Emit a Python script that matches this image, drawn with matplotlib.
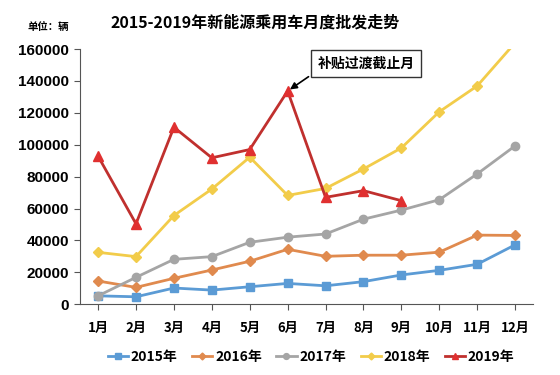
import numpy as np
import matplotlib.pyplot as plt

plt.rcParams['font.family'] = ['Noto Sans CJK SC', 'DejaVu Sans']

months = ['1月', '2月', '3月', '4月', '5月', '6月', '7月', '8月', '9月', '10月', '11月', '12月']
y2015 = [5200, 4600, 10100, 8800, 10900, 13000, 11500, 14100, 18300, 21200, 25000, 37200]
y2016 = [14500, 10500, 16200, 21400, 26900, 34400, 30000, 30700, 30700, 32600, 43300, 43100]
y2017 = [5200, 16800, 28100, 29800, 38800, 42000, 44000, 53300, 59000, 65500, 81700, 99300]
y2018 = [32500, 29800, 55600, 72200, 92200, 68200, 72600, 84800, 98000, 120700, 136900, 164000]
y2019 = [92800, 50400, 111000, 91800, 97000, 133700, 67000, 71200, 64900]

fig = plt.figure(figsize=(5.6, 3.75), dpi=100)
ax = fig.add_axes([0.143, 0.189, 0.809, 0.680])

x = np.arange(1, 13)
ax.plot(x, y2015, color='#5B9BD5', lw=2, marker='s', ms=6, label='2015年')
ax.plot(x, y2016, color='#E08A4E', lw=2, marker='D', ms=5, label='2016年')
ax.plot(x, y2017, color='#A5A5A5', lw=2, marker='o', ms=6, label='2017年')
ax.plot(x, y2018, color='#F2CC4A', lw=2, marker='D', ms=5, label='2018年')
ax.plot(x[:len(y2019)], y2019, color='#C0302E', lw=2, marker='^', ms=7,
        mfc='#E03030', mec='#E03030', label='2019年')

ax.set_xlim(0.525, 12.475)
ax.set_ylim(0, 160000)
ax.set_yticks(np.arange(0, 160001, 20000))
ax.set_xticks(x)
ax.set_xticklabels(months)
for s in ['top', 'right']:
    ax.spines[s].set_visible(False)
for s in ['left', 'bottom']:
    ax.spines[s].set_color('#555555')
ax.tick_params(axis='both', colors='#555555', labelcolor='black', length=4)
ax.tick_params(axis='y', pad=4)
ax.tick_params(axis='x', labelsize=9.5, pad=8)
for lbl in ax.get_yticklabels():
    lbl.set_fontweight('bold')
    lbl.set_fontfamily('Liberation Sans')
    lbl.set_fontsize(11)
for lbl in ax.get_xticklabels():
    lbl.set_fontweight('bold')

ax.legend(loc='upper center', bbox_to_anchor=(0.51, -0.13), ncol=5, frameon=False,
          prop={'weight': 'bold', 'size': 10}, handlelength=1.45, columnspacing=1.05,
          handletextpad=0.2, markerscale=0.7)

fig.text(0.455, 0.94, '2015-2019年新能源乘用车月度批发走势', ha='center', va='center',
         fontsize=11.5, fontweight='bold')
fig.text(0.086, 0.928, '单位：辆', ha='center', va='center', fontsize=7.5, fontweight='bold')

ax.annotate('补贴过渡截止月', xy=(6, 133700), xytext=(8.07, 151000),
            ha='center', va='center', fontsize=10, fontweight='bold',
            bbox=dict(boxstyle='square,pad=0.45', fc='white', ec='#333333', lw=1),
            arrowprops=dict(arrowstyle='-|>', color='black', lw=1.2, mutation_scale=10,
                            relpos=(0, 0)))

fig.savefig('out.png', dpi=100)
